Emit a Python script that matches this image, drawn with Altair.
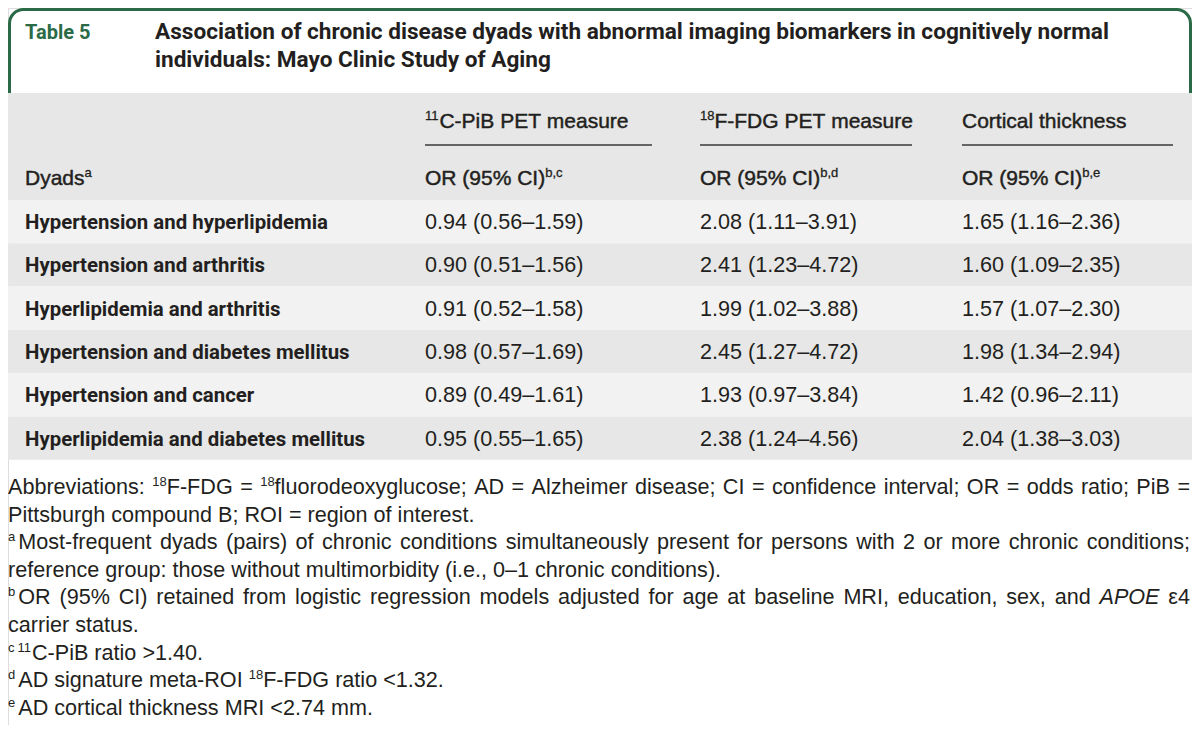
import re
import altair as alt
import pandas as pd

# ---------------- data ----------------
dyads = [
    "Hypertension and hyperlipidemia",
    "Hypertension and arthritis",
    "Hyperlipidemia and arthritis",
    "Hypertension and diabetes mellitus",
    "Hypertension and cancer",
    "Hyperlipidemia and diabetes mellitus",
]
pib = ["0.94 (0.56–1.59)", "0.90 (0.51–1.56)", "0.91 (0.52–1.58)",
       "0.98 (0.57–1.69)", "0.89 (0.49–1.61)", "0.95 (0.55–1.65)"]
fdg = ["2.08 (1.11–3.91)", "2.41 (1.23–4.72)", "1.99 (1.02–3.88)",
       "2.45 (1.27–4.72)", "1.93 (0.97–3.84)", "2.38 (1.24–4.56)"]
cort = ["1.65 (1.16–2.36)", "1.60 (1.09–2.35)", "1.57 (1.07–2.30)",
        "1.98 (1.34–2.94)", "1.42 (0.96–2.11)", "2.04 (1.38–3.03)"]

table_label = "Table 5"
title_lines = [
    "Association of chronic disease dyads with abnormal imaging biomarkers in cognitively normal",
    "individuals: Mayo Clinic Study of Aging",
]
# {..} marks superscript text, a leading _ marks an italic word
group_headers = ["{11}C-PiB PET measure", "{18}F-FDG PET measure", "Cortical thickness"]
sub_headers = ["Dyads{a}", "OR (95% CI){b,c}", "OR (95% CI){b,d}", "OR (95% CI){b,e}"]

footnotes = [
    "Abbreviations: {18}F-FDG = {18}fluorodeoxyglucose; AD = Alzheimer disease; CI = confidence interval; OR = odds ratio; PiB =",
    "Pittsburgh compound B; ROI = region of interest.",
    "{a}Most-frequent dyads (pairs) of chronic conditions simultaneously present for persons with 2 or more chronic conditions;",
    "reference group: those without multimorbidity (i.e., 0–1 chronic conditions).",
    "{b}OR (95% CI) retained from logistic regression models adjusted for age at baseline MRI, education, sex, and _APOE ε4",
    "carrier status.",
    "{c}{11}C-PiB ratio >1.40.",
    "{d}AD signature meta-ROI {18}F-FDG ratio <1.32.",
    "{e}AD cortical thickness MRI <2.74 mm.",
]
justified = [True, False, True, False, True, False, False, False, False]

# ---------------- layout (screen pixel space) ----------------
XMIN, XMAX, YMIN, YMAX = 8, 1192, 8, 725
REG = "Liberation Sans"
BOLD = "Roboto"
INK = "#231f20"
GREEN = "#2b6a47"
GRAY = "#e6e7e6"
LIGHT = "#f2f2f2"
col_x = [25, 425, 700, 962]
col_end = [None, 652, 912, 1173]
head_top = 93
row_y0, row_h = 200, 43.3
FS_HEAD, FS_VAL, FS_FOOT, FS_LABEL, SUP = 21, 21.6, 21.6, 20.4, 13
foot_base0, foot_dy = 494, 27.6
foot_right = 1190

# Arial / Liberation Sans advance widths (1/1000 em)
AW = {" ": 278, ":": 278, ";": 278, ".": 278, ",": 278, "(": 333, ")": 333, "-": 333, "–": 556,
      "=": 584, "<": 584, ">": 584, "%": 889, "ε": 446}
AW.update({d: 556 for d in "0123456789"})
AW.update(dict(zip("ABCDEFGHIJKLMNOPQRSTUVWXYZ",
                   [667, 667, 722, 722, 667, 611, 778, 722, 278, 500, 667, 556, 833, 722, 778, 667,
                    778, 722, 667, 611, 722, 667, 944, 667, 667, 611])))
AW.update(dict(zip("abcdefghijklmnopqrstuvwxyz",
                   [556, 556, 500, 556, 556, 278, 556, 556, 222, 222, 500, 222, 833, 556, 556, 556,
                    556, 333, 500, 278, 556, 500, 722, 500, 500, 500])))


def tw(s, size):
    return sum(AW.get(c, 556) for c in s) / 1000 * size


def parse_word(w):
    italic = w.startswith("_")
    if italic:
        w = w[1:]
    out = []
    for p in re.split(r"(\{[^}]*\})", w):
        if not p:
            continue
        if p.startswith("{"):
            out.append((p[1:-1], "sup"))
        else:
            out.append((p, "ital" if italic else "reg"))
    return out


def place_word(pieces, x, y, size, rows):
    cx = x
    for i, (t, k) in enumerate(pieces):
        if k == "sup":
            rows.append(dict(x=cx, y=y - 8, t=t, kind="sup"))
            cx += tw(t, SUP)
            if t.isalpha() and i < len(pieces) - 1:
                cx += 3
        else:
            rows.append(dict(x=cx, y=y, t=t, kind=k))
            cx += tw(t, size)
    return cx - x


def layout_line(text, x0, y, size, justify_to=None):
    words = [parse_word(w) for w in text.split(" ")]
    scratch = []
    widths = [place_word(p, 0, 0, size, scratch) for p in words]
    space = tw(" ", size)
    gap = space
    if justify_to is not None and len(words) > 1:
        natural = sum(widths) + space * (len(words) - 1)
        gap = space + (justify_to - x0 - natural) / (len(words) - 1)
    rows, x = [], x0
    for p, w in zip(words, widths):
        place_word(p, x, y, size, rows)
        x += w + gap
    return rows


X = lambda f: alt.X(f, type="quantitative", scale=alt.Scale(domain=[XMIN, XMAX], nice=False, zero=False), axis=None)
Y = lambda f: alt.Y(f, type="quantitative", scale=alt.Scale(domain=[YMIN, YMAX], reverse=True, nice=False, zero=False), axis=None)

layers = []

# green title box with rounded top corners
box = pd.DataFrame({"x": [9.5], "x2": [1190.5], "y": [9.5], "y2": [130]})
layers.append(alt.Chart(box).mark_rect(fill="white", stroke=GREEN, strokeWidth=3,
                                       cornerRadiusTopLeft=14, cornerRadiusTopRight=14)
              .encode(x=X("x"), x2=alt.X2("x2"), y=Y("y"), y2=alt.Y2("y2")))

# header band
hb = pd.DataFrame({"x": [XMIN], "x2": [XMAX], "y": [head_top], "y2": [row_y0]})
layers.append(alt.Chart(hb).mark_rect(fill=GRAY).encode(x=X("x"), x2=alt.X2("x2"), y=Y("y"), y2=alt.Y2("y2")))

# body stripes
n = len(dyads)
rows = pd.DataFrame({
    "x": [XMIN] * n, "x2": [XMAX] * n,
    "y": [row_y0 + i * row_h for i in range(n)],
    "y2": [row_y0 + (i + 1) * row_h for i in range(n)],
    "shade": ["light" if i % 2 == 0 else "dark" for i in range(n)],
})
layers.append(alt.Chart(rows).mark_rect().encode(
    x=X("x"), x2=alt.X2("x2"), y=Y("y"), y2=alt.Y2("y2"),
    color=alt.Color("shade:N", scale=alt.Scale(domain=["light", "dark"], range=[LIGHT, GRAY]), legend=None)))

# underlines under group headers
ul = pd.DataFrame({"x": col_x[1:], "x2": col_end[1:], "y": [145] * 3})
layers.append(alt.Chart(ul).mark_rule(color="#3a3a3a", strokeWidth=1.4).encode(x=X("x"), x2=alt.X2("x2"), y=Y("y")))


def text_layer(df, size, font=REG, weight="normal", color=INK, style="normal", stroke=None):
    kw = dict(align="left", baseline="alphabetic", font=font, fontSize=size,
              fontWeight=weight, fontStyle=style, color=color)
    if stroke:
        kw.update(stroke=color, strokeWidth=stroke)
    return alt.Chart(df).mark_text(**kw).encode(x=X("x"), y=Y("y"), text="t:N")


# title
layers.append(text_layer(pd.DataFrame({"x": [25], "y": [39], "t": [table_label]}), 20, BOLD, "bold", GREEN))
layers.append(text_layer(pd.DataFrame({"x": [155, 155], "y": [39, 67], "t": title_lines}), 22.6, BOLD, "bold"))

# headers (rich text)
hrows = []
for xx, t in zip(col_x[1:], group_headers):
    hrows += layout_line(t, xx, 128, FS_HEAD)
for xx, t in zip(col_x, sub_headers):
    hrows += layout_line(t, xx, 185, FS_HEAD)
hdf = pd.DataFrame(hrows)
layers.append(text_layer(hdf[hdf.kind == "reg"], FS_HEAD, stroke=0.45))
layers.append(text_layer(hdf[hdf.kind == "sup"], SUP, stroke=0.3))

# body
base = [row_y0 + i * row_h + 29 for i in range(n)]
layers.append(text_layer(pd.DataFrame({"x": [col_x[0]] * n, "y": base, "t": dyads}), FS_LABEL, BOLD, "bold"))
vals = pd.DataFrame({
    "x": [col_x[1]] * n + [col_x[2]] * n + [col_x[3]] * n,
    "y": base * 3,
    "t": pib + fdg + cort,
})
layers.append(text_layer(vals, FS_VAL))

# footnotes (justified like the source)
frows = []
for i, (t, j) in enumerate(zip(footnotes, justified)):
    frows += layout_line(t, XMIN, foot_base0 + i * foot_dy, FS_FOOT, foot_right if j else None)
fdf = pd.DataFrame(frows)
layers.append(text_layer(fdf[fdf.kind == "reg"], FS_FOOT))
layers.append(text_layer(fdf[fdf.kind == "ital"], FS_FOOT, style="italic"))
layers.append(text_layer(fdf[fdf.kind == "sup"], SUP))

chart = alt.layer(*layers).properties(width=XMAX - XMIN, height=YMAX - YMIN, padding=0,
                                      autosize=alt.AutoSizeParams(type="none")) \
    .configure_view(stroke=None).configure(background="white")

chart.save("out.html", embed_options={"renderer": "svg", "actions": False})
